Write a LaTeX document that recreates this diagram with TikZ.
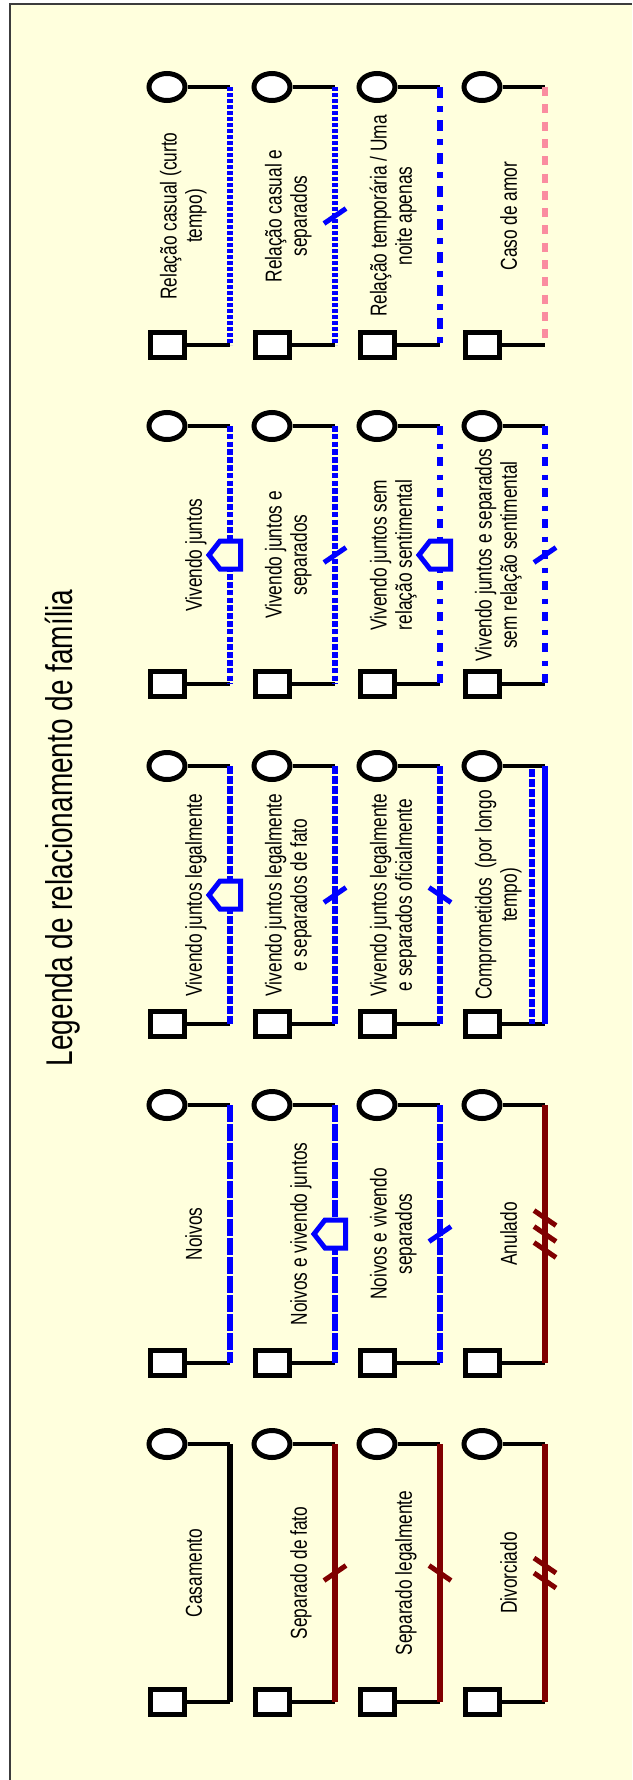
\documentclass[tikz,border=0pt]{standalone}
\usepackage{fontspec}
\setmainfont{Liberation Sans}
\usetikzlibrary{shapes.geometric,calc}

\definecolor{legbg}{RGB}{255,255,221}
\definecolor{legframe}{RGB}{60,60,60}
\definecolor{sepred}{RGB}{128,0,0}
\definecolor{relblue}{RGB}{0,0,255}
\definecolor{amorpink}{RGB}{250,140,160}

\tikzset{
	fem/.style={ellipse, draw, fill=white, line width=5pt, minimum width=36pt, minimum height=27pt, inner sep=0pt},
	masc/.style={rectangle, draw, fill=white, line width=5pt, minimum width=34pt, minimum height=25pt, inner sep=0pt},
	lbl/.style={xscale=1.33, rotate=90, anchor=south, align=center, inner sep=0pt,
		font=\fontsize{17.3}{19}\selectfont, execute at end node=\vphantom{g}},
	conn/.style={line width=4pt},
	rel/.style={line width=6pt},
	sepline/.style={rel, sepred},
	solidblue/.style={rel, relblue},
	noivos/.style={rel, relblue, dash pattern=on 17pt off 2pt},
	legal/.style={rel, relblue, dash pattern=on 7.5pt off 2.5pt},
	juntos/.style={rel, relblue, dash pattern=on 5.5pt off 2.3pt},
	semrel/.style={rel, relblue, dash pattern=on 9pt off 8.5pt on 5pt off 8.5pt},
	casual/.style={rel, relblue, dash pattern=on 4pt off 2pt},
	temp/.style={rel, relblue, dash pattern=on 10.5pt off 8.5pt on 5.5pt off 8.5pt},
	amor/.style={rel, amorpink, dash pattern=on 9pt off 8.3pt},
	sepmark/.style={line width=5pt},
	house/.style={draw=relblue, fill=legbg, line width=5pt, line join=miter}
}

\begin{document}
\begin{tikzpicture}[x=1pt, y=-1pt]
	\useasboundingbox (0,0) rectangle (632,1780);
	\fill[legbg] (10,4) rectangle (632,1780);
	\draw[legframe, line width=1.5pt] (10,1780) -- (10,4) -- (632,4);

	\node[lbl, font=\fontsize{28}{32}\selectfont] (title) at (80,828) {Legenda de relacionamento de família};

	% casamento e separacoes
	\node[fem]  (casW) at (167,1444) {};  \node[masc] (casM) at (167,1702) {};
	\node[fem]  (sdfW) at (272,1444) {};  \node[masc] (sdfM) at (272,1702) {};
	\node[fem]  (slW)  at (377,1444) {};  \node[masc] (slM)  at (377,1702) {};
	\node[fem]  (divW) at (482,1444) {};  \node[masc] (divM) at (482,1702) {};
	\coordinate (casT) at (230,1444);  \coordinate (casB) at (230,1702);
	\coordinate (sdfT) at (335,1444);  \coordinate (sdfB) at (335,1702);
	\coordinate (slT)  at (440,1444);  \coordinate (slB)  at (440,1702);
	\coordinate (divT) at (545,1444);  \coordinate (divB) at (545,1702);
	\node[lbl] (casL) at (207,1573) {Casamento};
	\node[lbl] (sdfL) at (312,1573) {Separado de fato};
	\node[lbl] (slL)  at (417,1573) {Separado legalmente};
	\node[lbl] (divL) at (522,1573) {Divorciado};

	% noivos
	\node[fem]  (noiW) at (167,1105) {};  \node[masc] (noiM) at (167,1363) {};
	\node[fem]  (nvjW) at (272,1105) {};  \node[masc] (nvjM) at (272,1363) {};
	\node[fem]  (nvsW) at (377,1105) {};  \node[masc] (nvsM) at (377,1363) {};
	\node[fem]  (anuW) at (482,1105) {};  \node[masc] (anuM) at (482,1363) {};
	\coordinate (noiT) at (230,1105);  \coordinate (noiB) at (230,1363);
	\coordinate (nvjT) at (335,1105);  \coordinate (nvjB) at (335,1363);
	\coordinate (nvsT) at (440,1105);  \coordinate (nvsB) at (440,1363);
	\coordinate (anuT) at (545,1105);  \coordinate (anuB) at (545,1363);
	\node[lbl] (noiL) at (207,1234) {Noivos};
	\node[lbl] (nvjL) at (312,1234) {Noivos e vivendo juntos};
	\node[lbl] (nvsL) at (417,1234) {Noivos e vivendo\\separados};
	\node[lbl] (anuL) at (522,1234) {Anulado};

	% vivendo juntos legalmente
	\node[fem]  (vjlW)   at (167,766) {};  \node[masc] (vjlM)   at (167,1024) {};
	\node[fem]  (vjlsfW) at (272,766) {};  \node[masc] (vjlsfM) at (272,1024) {};
	\node[fem]  (vjlsoW) at (377,766) {};  \node[masc] (vjlsoM) at (377,1024) {};
	\node[fem]  (compW)  at (482,766) {};  \node[masc] (compM)  at (482,1024) {};
	\coordinate (vjlT)   at (230,766);  \coordinate (vjlB)   at (230,1024);
	\coordinate (vjlsfT) at (335,766);  \coordinate (vjlsfB) at (335,1024);
	\coordinate (vjlsoT) at (440,766);  \coordinate (vjlsoB) at (440,1024);
	\coordinate (compT)  at (545,766);  \coordinate (compB)  at (545,1024);
	\coordinate (compT2) at (532,769);  \coordinate (compB2) at (532,1024);
	\node[lbl] (vjlL)   at (207,895) {Vivendo juntos legalmente};
	\node[lbl] (vjlsfL) at (312,895) {Vivendo juntos legalmente\\e separados de fato};
	\node[lbl] (vjlsoL) at (417,895) {Vivendo juntos legalmente\\e separados oficialmente};
	\node[lbl] (compL)  at (522,895) {Comprometidos \ (por longo\\tempo)};

	% vivendo juntos
	\node[fem]  (vjW)    at (167,426) {};  \node[masc] (vjM)    at (167,684) {};
	\node[fem]  (vjsW)   at (272,426) {};  \node[masc] (vjsM)   at (272,684) {};
	\node[fem]  (vjsrW)  at (377,426) {};  \node[masc] (vjsrM)  at (377,684) {};
	\node[fem]  (vjssrW) at (482,426) {};  \node[masc] (vjssrM) at (482,684) {};
	\coordinate (vjT)    at (230,426);  \coordinate (vjB)    at (230,684);
	\coordinate (vjsT)   at (335,426);  \coordinate (vjsB)   at (335,684);
	\coordinate (vjsrT)  at (440,426);  \coordinate (vjsrB)  at (440,684);
	\coordinate (vjssrT) at (545,426);  \coordinate (vjssrB) at (545,684);
	\node[lbl] (vjL)    at (207,555) {Vivendo juntos};
	\node[lbl] (vjsL)   at (312,555) {Vivendo juntos e\\separados};
	\node[lbl] (vjsrL)  at (417,555) {Vivendo juntos sem\\relação sentimental};
	\node[lbl] (vjssrL) at (522,555) {Vivendo juntos e separados\\sem relação sentimental};

	% relacoes casuais
	\node[fem]  (rcW)  at (167,87) {};  \node[masc] (rcM)  at (167,345) {};
	\node[fem]  (rcsW) at (272,87) {};  \node[masc] (rcsM) at (272,345) {};
	\node[fem]  (rtW)  at (377,87) {};  \node[masc] (rtM)  at (377,345) {};
	\node[fem]  (caW)  at (482,87) {};  \node[masc] (caM)  at (482,345) {};
	\coordinate (rcT)  at (230,87);  \coordinate (rcB)  at (230,345);
	\coordinate (rcsT) at (335,87);  \coordinate (rcsB) at (335,345);
	\coordinate (rtT)  at (440,87);  \coordinate (rtB)  at (440,345);
	\coordinate (caT)  at (545,87);  \coordinate (caB)  at (545,345);
	\node[lbl] (rcL)  at (207,216) {Relação casual (curto\\tempo)};
	\node[lbl] (rcsL) at (312,216) {Relação casual e\\separados};
	\node[lbl] (rtL)  at (417,216) {Relação temporária / Uma\\noite apenas};
	\node[lbl] (caL)  at (522,216) {Caso de amor};

	% connectors
	\draw[conn] (casW) -- (casT) (casM) -- (casB);
	\draw[conn] (sdfW) -- (sdfT) (sdfM) -- (sdfB);
	\draw[conn] (slW) -- (slT) (slM) -- (slB);
	\draw[conn] (divW) -- (divT) (divM) -- (divB);
	\draw[conn] (noiW) -- (noiT) (noiM) -- (noiB);
	\draw[conn] (nvjW) -- (nvjT) (nvjM) -- (nvjB);
	\draw[conn] (nvsW) -- (nvsT) (nvsM) -- (nvsB);
	\draw[conn] (anuW) -- (anuT) (anuM) -- (anuB);
	\draw[conn] (vjlW) -- (vjlT) (vjlM) -- (vjlB);
	\draw[conn] (vjlsfW) -- (vjlsfT) (vjlsfM) -- (vjlsfB);
	\draw[conn] (vjlsoW) -- (vjlsoT) (vjlsoM) -- (vjlsoB);
	\draw[conn] (compW) -- (compT) (compM) -- (compB);
	\draw[conn] (vjW) -- (vjT) (vjM) -- (vjB);
	\draw[conn] (vjsW) -- (vjsT) (vjsM) -- (vjsB);
	\draw[conn] (vjsrW) -- (vjsrT) (vjsrM) -- (vjsrB);
	\draw[conn] (vjssrW) -- (vjssrT) (vjssrM) -- (vjssrB);
	\draw[conn] (rcW) -- (rcT) (rcM) -- (rcB);
	\draw[conn] (rcsW) -- (rcsT) (rcsM) -- (rcsB);
	\draw[conn] (rtW) -- (rtT) (rtM) -- (rtB);
	\draw[conn] (caW) -- (caT) (caM) -- (caB);

	% relationship lines
	\draw[rel] (casT) -- (casB);
	\draw[sepline] (sdfT) -- (sdfB);
	\draw[sepline] (slT) -- (slB);
	\draw[sepline] (divT) -- (divB);
	\draw[noivos] (noiT) -- (noiB);
	\draw[noivos] (nvjT) -- (nvjB);
	\draw[noivos] (nvsT) -- (nvsB);
	\draw[sepline] (anuT) -- (anuB);
	\draw[legal] (vjlT) -- (vjlB);
	\draw[legal] (vjlsfT) -- (vjlsfB);
	\draw[legal] (vjlsoT) -- (vjlsoB);
	\draw[legal] (compT2) -- (compB2);
	\draw[solidblue] (compT) -- (compB);
	\draw[juntos] (vjT) -- (vjB);
	\draw[juntos] (vjsT) -- (vjsB);
	\draw[semrel] (vjsrT) -- (vjsrB);
	\draw[semrel] (vjssrT) -- (vjssrB);
	\draw[casual] (rcT) -- (rcB);
	\draw[casual] (rcsT) -- (rcsB);
	\draw[temp] (rtT) -- (rtB);
	\draw[amor] (caT) -- (caB);

	% separations
	\draw[sepmark, sepred] ($(sdfT)!.5!(sdfB)$) +(-11,7.5) -- +(11,-7.5);
	\draw[sepmark, sepred] ($(slT)!.5!(slB)$) +(-11,-7.5) -- +(11,7.5);
	\draw[sepmark, sepred] ($(divT)!.5!(divB)$) +(-11,-15) -- +(11,0) +(-11,0) -- +(11,15);
	\draw[sepmark, sepred] ($(anuT)!.5!(anuB)$) +(-11,-23.5) -- +(11,-8.5) +(-11,-7.5) -- +(11,7.5) +(-11,8.5) -- +(11,23.5);
	\draw[sepmark, relblue] ($(nvsT)!.5!(nvsB)$) +(-11,7.5) -- +(11,-7.5);
	\draw[sepmark, relblue] ($(vjlsfT)!.5!(vjlsfB)$) +(-11,7.5) -- +(11,-7.5);
	\draw[sepmark, relblue] ($(vjlsoT)!.5!(vjlsoB)$) +(-11,-7.5) -- +(11,7.5);
	\draw[sepmark, relblue] ($(vjsT)!.5!(vjsB)$) +(-11,7.5) -- +(11,-7.5);
	\draw[sepmark, relblue] ($(vjssrT)!.5!(vjssrB)$) +(-11,7.5) -- +(11,-7.5);
	\draw[sepmark, relblue] ($(rcsT)!.5!(rcsB)$) +(-11,7.5) -- +(11,-7.5);

	% living together
	\draw[house] ($(nvjT)!.5!(nvjB)$) +(-21,0) -- +(-10,-14) -- +(10.5,-14) -- +(10.5,14) -- +(-10,14) -- cycle;
	\draw[house] ($(vjlT)!.5!(vjlB)$) +(-21,0) -- +(-10,-14) -- +(10.5,-14) -- +(10.5,14) -- +(-10,14) -- cycle;
	\draw[house] ($(vjT)!.5!(vjB)$) +(-21,0) -- +(-10,-14) -- +(10.5,-14) -- +(10.5,14) -- +(-10,14) -- cycle;
	\draw[house] ($(vjsrT)!.5!(vjsrB)$) +(-21,0) -- +(-10,-14) -- +(10.5,-14) -- +(10.5,14) -- +(-10,14) -- cycle;
\end{tikzpicture}
\end{document}
